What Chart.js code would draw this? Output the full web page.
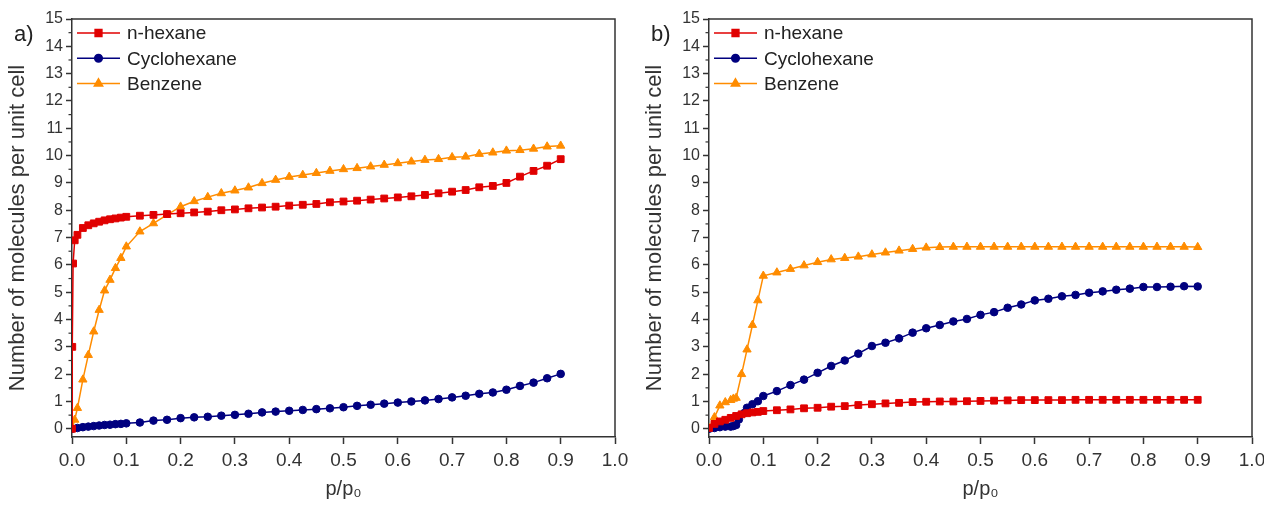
<!DOCTYPE html>
<html>
<head>
<meta charset="utf-8">
<script src="https://cdn.jsdelivr.net/npm/chart.js@4.4.1/dist/chart.umd.min.js"></script>
<style>
    html, body { margin: 0; padding: 0; background: #fff; overflow: hidden; width: 1264px; height: 507px; }
    .panel { position: absolute; top: 0; height: 507px; }
    #wrapA { left: 0; width: 640px; }
    #wrapB { left: 637px; width: 660px; }
    .tag { position: absolute; top: 21px; font: 22px "Liberation Sans", Arial, sans-serif; color: #222; }
</style>
</head>
<body>
<div id="wrapA" class="panel"><canvas id="chartA"></canvas></div>
<div id="wrapB" class="panel"><canvas id="chartB"></canvas></div>
<div class="tag" style="left:14px">a)</div>
<div class="tag" style="left:651px">b)</div>

<script>
// shared pressure grid above p/p0 = 0.1
const xTail = [0.125, 0.15, 0.175, 0.2, 0.225, 0.25, 0.275, 0.3, 0.325, 0.35, 0.375, 0.4,
    0.425, 0.45, 0.475, 0.5, 0.525, 0.55, 0.575, 0.6, 0.625, 0.65, 0.675, 0.7,
    0.725, 0.75, 0.775, 0.8, 0.825, 0.85, 0.875, 0.9];

// panel a)
const aHexaneX = [0, 0.0005, 0.002, 0.005, 0.01, 0.02, 0.03, 0.04, 0.05, 0.06, 0.07, 0.08, 0.09, 0.1].concat(xTail);
const aHexaneY = [0, 3.0, 6.05, 6.9, 7.1, 7.35, 7.45, 7.52, 7.58, 7.63, 7.67, 7.7, 7.73, 7.76,
    7.8, 7.83, 7.86, 7.89, 7.92, 7.95, 8.0, 8.03, 8.07, 8.1, 8.13, 8.17,
    8.2, 8.23, 8.29, 8.32, 8.35, 8.39, 8.43, 8.47, 8.51, 8.56, 8.62, 8.68,
    8.74, 8.84, 8.89, 9.0, 9.23, 9.44, 9.63, 9.87];

const aCycloX = [0, 0.01, 0.02, 0.03, 0.04, 0.05, 0.06, 0.07, 0.08, 0.09, 0.1].concat(xTail);
const aCycloY = [0, 0.03, 0.06, 0.08, 0.1, 0.12, 0.14, 0.15, 0.17, 0.18, 0.2,
    0.23, 0.3, 0.33, 0.39, 0.42, 0.44, 0.48, 0.51, 0.55, 0.6, 0.63, 0.66,
    0.69, 0.72, 0.75, 0.79, 0.84, 0.88, 0.92, 0.96, 1.0, 1.04, 1.09, 1.15,
    1.21, 1.28, 1.33, 1.43, 1.57, 1.69, 1.85, 2.01];

const aBenzeneX = [0, 0.005, 0.01, 0.02, 0.03, 0.04, 0.05, 0.06, 0.07, 0.08, 0.09, 0.1].concat(xTail);
const aBenzeneY = [0, 0.33, 0.76, 1.8, 2.7, 3.56, 4.35, 5.06, 5.45, 5.88, 6.25, 6.67,
    7.22, 7.52, 7.83, 8.13, 8.33, 8.48, 8.62, 8.72, 8.83, 8.99, 9.11, 9.22,
    9.29, 9.36, 9.44, 9.5, 9.54, 9.6, 9.66, 9.72, 9.78, 9.84, 9.87, 9.94,
    9.96, 10.06, 10.11, 10.18, 10.2, 10.25, 10.33, 10.36];

// panel b)
const bHexaneX = [0, 0.01, 0.02, 0.03, 0.04, 0.05, 0.06, 0.07, 0.08, 0.09, 0.1].concat(xTail);
const bHexaneY = [0.03, 0.18, 0.27, 0.33, 0.4, 0.47, 0.53, 0.57, 0.6, 0.62, 0.65,
    0.68, 0.71, 0.75, 0.77, 0.81, 0.83, 0.87, 0.9, 0.93, 0.95, 0.98, 0.99,
    1.0, 1.0, 1.01, 1.02, 1.03, 1.04, 1.05, 1.05, 1.05, 1.05, 1.06, 1.06,
    1.06, 1.06, 1.06, 1.06, 1.06, 1.06, 1.06, 1.06];

const bCycloX = [0, 0.01, 0.02, 0.03, 0.04, 0.045, 0.05, 0.055, 0.065, 0.07, 0.08, 0.09, 0.1].concat(xTail);
const bCycloY = [0, 0.03, 0.06, 0.08, 0.08, 0.1, 0.14, 0.34, 0.58, 0.77, 0.9, 1.01, 1.2,
    1.38, 1.6, 1.8, 2.05, 2.3, 2.5, 2.75, 3.03, 3.15, 3.31, 3.52, 3.68,
    3.8, 3.93, 4.02, 4.17, 4.27, 4.43, 4.55, 4.7, 4.76, 4.85, 4.9, 4.98,
    5.03, 5.09, 5.13, 5.19, 5.19, 5.2, 5.22, 5.21];

const bBenzeneX = [0, 0.01, 0.02, 0.03, 0.04, 0.045, 0.05, 0.06, 0.07, 0.08, 0.09, 0.1].concat(xTail);
const bBenzeneY = [0.03, 0.42, 0.85, 0.97, 1.05, 1.1, 1.13, 2.0, 2.9, 3.8, 4.7, 5.6,
    5.72, 5.85, 5.98, 6.1, 6.2, 6.25, 6.3, 6.38, 6.45, 6.52, 6.58, 6.63,
    6.65, 6.66, 6.66, 6.66, 6.66, 6.66, 6.66, 6.66, 6.66, 6.66, 6.66, 6.66,
    6.66, 6.66, 6.66, 6.66, 6.66, 6.66, 6.66, 6.65];

const labels = ['n-hexane', 'Cyclohexane', 'Benzene'];
const colors = ['#e00000', '#00007f', '#ff8c00'];
const styles = ['rect', 'circle', 'triangle'];
const radii = [4.8, 3.8, 4.8];

const FONT = '"Liberation Sans", Arial, sans-serif';
const INK = '#333';

// frame on top/right, minor y ticks and the in-plot legend
const decorPlugin = {
    id: 'decor',
    afterDraw(chart) {
        const ctx = chart.ctx;
        const a = chart.chartArea;
        const y = chart.scales.y;
        ctx.save();
        ctx.strokeStyle = INK;
        ctx.lineWidth = 1.5;
        ctx.beginPath();
        ctx.moveTo(a.left, a.top);
        ctx.lineTo(a.right, a.top);
        ctx.lineTo(a.right, a.bottom);
        ctx.stroke();

        ctx.lineWidth = 1.2;
        for (let v = 0.5; v < 15; v += 1) {
            const py = y.getPixelForValue(v);
            ctx.beginPath();
            ctx.moveTo(a.left - 3.5, py);
            ctx.lineTo(a.left, py);
            ctx.stroke();
        }

        // legend
        chart.data.datasets.forEach((ds, i) => {
            const ly = 33 + i * 25.3;
            ctx.strokeStyle = ds.borderColor;
            ctx.fillStyle = ds.borderColor;
            ctx.lineWidth = 1.5;
            ctx.beginPath();
            ctx.moveTo(77, ly);
            ctx.lineTo(120, ly);
            ctx.stroke();
            Chart.helpers.drawPoint(ctx, {
                pointStyle: ds.pointStyle, radius: ds.pointRadius, rotation: 0, borderWidth: 1
            }, 98.5, ly);
            ctx.fillStyle = '#222';
            ctx.font = '19px ' + FONT;
            ctx.textBaseline = 'middle';
            ctx.textAlign = 'left';
            ctx.fillText(ds.label, 127, ly + 1);
        });
        ctx.restore();
    }
};

function makeChart(canvasId, xsList, ysList, canvasWidth) {
    const datasets = xsList.map((xs, i) => ({
        label: labels[i],
        data: xs.map((x, k) => ({ x: x, y: ysList[i][k] })),
        borderColor: colors[i],
        backgroundColor: colors[i],
        pointStyle: styles[i],
        pointRadius: radii[i],
        pointHoverRadius: radii[i],
        pointBorderWidth: 1,
        borderWidth: 1.5,
        tension: 0
    }));

    new Chart(document.getElementById(canvasId), {
        type: 'line',
        data: { datasets: datasets },
        options: {
            animation: false,
            responsive: true,
            maintainAspectRatio: false,
            layout: { padding: { left: 0, top: 19, right: canvasWidth - 615, bottom: 0 } },
            plugins: { legend: { display: false }, tooltip: { enabled: false } },
            scales: {
                x: {
                    type: 'linear', min: 0, max: 1,
                    ticks: {
                        stepSize: 0.1, autoSkip: false, maxRotation: 0, padding: 5,
                        color: INK, font: { family: FONT, size: 19 },
                        callback: v => v.toFixed(1)
                    },
                    grid: { display: true, drawOnChartArea: false, tickLength: 7, tickColor: INK, tickWidth: 1.5 },
                    border: { display: true, color: INK, width: 1.5 },
                    title: {
                        display: true, text: 'p/p₀', color: INK,
                        font: { family: FONT, size: 20 }, padding: { top: 0, bottom: 6 }
                    },
                    afterFit: s => { s.height = 70; }
                },
                y: {
                    min: -0.3, max: 15,
                    ticks: {
                        stepSize: 1, includeBounds: false, padding: 3,
                        color: INK, font: { family: FONT, size: 16 }
                    },
                    grid: { display: true, drawOnChartArea: false, tickLength: 6, tickColor: INK, tickWidth: 1.5 },
                    border: { display: true, color: INK, width: 1.5 },
                    title: {
                        display: true, text: 'Number of molecules per unit cell', color: INK,
                        font: { family: FONT, size: 22 }, padding: { top: 5, bottom: 0 }
                    },
                    afterFit: s => { s.width = 72; }
                }
            }
        },
        plugins: [decorPlugin]
    });
}

makeChart('chartA', [aHexaneX, aCycloX, aBenzeneX], [aHexaneY, aCycloY, aBenzeneY], 640);
makeChart('chartB', [bHexaneX, bCycloX, bBenzeneX], [bHexaneY, bCycloY, bBenzeneY], 660);
</script>
</body>
</html>
